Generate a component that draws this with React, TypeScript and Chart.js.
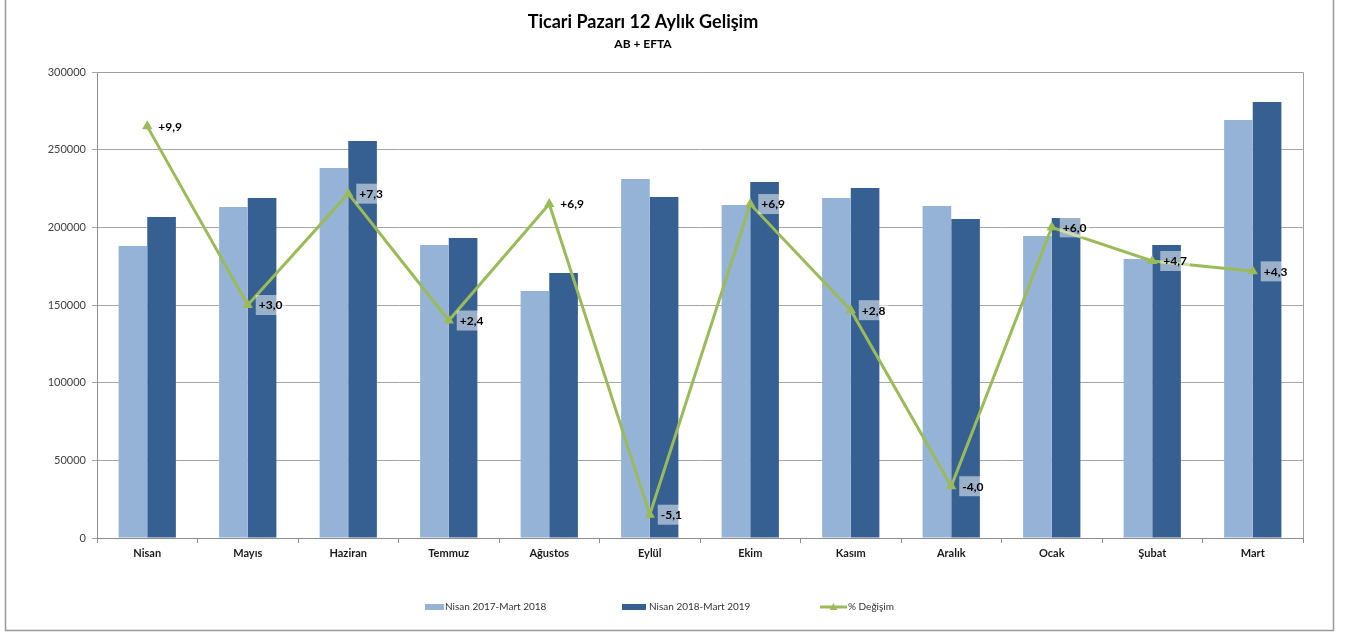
import React, { useEffect, useRef } from "react";
import { Chart, registerables } from "chart.js";

Chart.register(...registerables);

const categories = ["Nisan", "Mayıs", "Haziran", "Temmuz", "Ağustos", "Eylül", "Ekim", "Kasım", "Aralık", "Ocak", "Şubat", "Mart"];
const prevPeriod = [188000, 213100, 238200, 188600, 159000, 231100, 214400, 218900, 213700, 194400, 179600, 269100];
const currPeriod = [206700, 218900, 255600, 193100, 170600, 219500, 229200, 225300, 205400, 206000, 188600, 280700];
const changePct = [9.9, 3.0, 7.3, 2.4, 6.9, -5.1, 6.9, 2.8, -4.0, 6.0, 4.7, 4.3];
const seriesNames = ["Nisan 2017-Mart 2018", "Nisan 2018-Mart 2019", "% Değişim"];
const titleText = "Ticari Pazarı 12 Aylık Gelişim";
const subtitleText = "AB + EFTA";

const FONT = "Lato, 'Noto Sans', sans-serif";
const LIGHT = "#95B3D7";
const DARK = "#366092";
const GREEN = "#9BBB59";

const fmtPct = (v: number) => (v > 0 ? "+" : "") + v.toFixed(1).replace(".", ",");

const decorPlugin = {
  id: "decor",
  beforeDraw(chart: any) {
    const ctx = chart.ctx;
    ctx.save();
    ctx.fillStyle = "#ffffff";
    ctx.fillRect(0, 0, chart.width, chart.height);
    ctx.strokeStyle = "#9a9a9a";
    ctx.lineWidth = 1.5;
    ctx.beginPath();
    ctx.moveTo(5.5, 0);
    ctx.lineTo(5.5, 630.5);
    ctx.lineTo(1333.5, 630.5);
    ctx.lineTo(1333.5, 0);
    ctx.stroke();
    ctx.restore();
  },
  afterDraw(chart: any) {
    const ctx = chart.ctx;
    const area = chart.chartArea;
    ctx.save();
    ctx.strokeStyle = "#a0a0a0";
    ctx.lineWidth = 1;
    ctx.beginPath();
    ctx.moveTo(area.left, Math.round(area.top) + 0.5);
    ctx.lineTo(Math.round(area.right) + 0.5, Math.round(area.top) + 0.5);
    ctx.lineTo(Math.round(area.right) + 0.5, area.bottom);
    ctx.stroke();

    const meta = chart.getDatasetMeta(0);
    ctx.font = "bold 12px " + FONT;
    ctx.textBaseline = "middle";
    ctx.textAlign = "left";
    meta.data.forEach((pt: any, i: number) => {
      const txt = fmtPct(changePct[i]);
      const w = ctx.measureText(txt).width;
      const x = pt.x + 11;
      const y = pt.y;
      ctx.fillStyle = "rgba(255,255,255,0.5)";
      ctx.fillRect(x - 3, y - 10, w + 6, 20);
      ctx.fillStyle = "#000000";
      ctx.fillText(txt, x, y + 0.5);
    });

    ctx.textAlign = "center";
    ctx.fillStyle = "#000000";
    ctx.font = "bold 18px " + FONT;
    ctx.fillText(titleText, 643, 22);
    ctx.font = "bold 12px " + FONT;
    ctx.fillText(subtitleText, 643, 44);

    const xs = [425, 622, 820];
    const ly = 607;
    ctx.font = "10px " + FONT;
    ctx.textAlign = "left";
    ctx.textBaseline = "middle";
    ctx.fillStyle = LIGHT;
    ctx.fillRect(xs[0], ly - 3, 19, 6);
    ctx.fillStyle = DARK;
    ctx.fillRect(xs[1], ly - 3, 24, 6);
    ctx.strokeStyle = GREEN;
    ctx.lineWidth = 3;
    ctx.beginPath();
    ctx.moveTo(xs[2], ly);
    ctx.lineTo(xs[2] + 27, ly);
    ctx.stroke();
    ctx.fillStyle = GREEN;
    ctx.beginPath();
    ctx.moveTo(xs[2] + 13.5, ly - 4);
    ctx.lineTo(xs[2] + 17.5, ly + 3);
    ctx.lineTo(xs[2] + 9.5, ly + 3);
    ctx.closePath();
    ctx.fill();
    ctx.fillStyle = "#333333";
    ctx.fillText(seriesNames[0], xs[0] + 20, ly);
    ctx.fillText(seriesNames[1], xs[1] + 27, ly);
    ctx.fillText(seriesNames[2], xs[2] + 28, ly);
    ctx.restore();
  },
};

export default function App() {
  const ref = useRef<HTMLCanvasElement | null>(null);
  useEffect(() => {
    if (!ref.current) return;
    const chart = new Chart(ref.current, {
      type: "bar",
      data: {
        labels: categories,
        datasets: [
          {
            type: "line",
            label: seriesNames[2],
            data: changePct,
            yAxisID: "y1",
            borderColor: GREEN,
            backgroundColor: GREEN,
            borderWidth: 3,
            pointStyle: "triangle",
            pointRadius: 6,
            pointHoverRadius: 6,
            pointBorderWidth: 0,
            tension: 0,
            order: 0,
          } as any,
          {
            label: seriesNames[0],
            data: prevPeriod,
            backgroundColor: LIGHT,
            borderWidth: 0,
            yAxisID: "y",
            order: 1,
            barPercentage: 1,
            categoryPercentage: 0.57,
          },
          {
            label: seriesNames[1],
            data: currPeriod,
            backgroundColor: DARK,
            borderWidth: 0,
            yAxisID: "y",
            order: 2,
            barPercentage: 1,
            categoryPercentage: 0.57,
          },
        ],
      },
      options: {
        animation: false,
        responsive: false,
        maintainAspectRatio: false,
        layout: { padding: { left: 0, top: 72, right: 52, bottom: 70 } },
        plugins: {
          legend: { display: false },
          title: { display: false },
          tooltip: { enabled: false },
        },
        scales: {
          x: {
            type: "category",
            offset: true,
            grid: {
              offset: true,
              drawOnChartArea: false,
              drawTicks: true,
              tickLength: 5,
              color: "#8c8c8c",
            },
            border: { color: "#8c8c8c" },
            ticks: {
              font: { family: FONT, size: 11, weight: "bold" },
              color: "#1a1a1a",
              padding: 4,
              maxRotation: 0,
            },
            afterFit: (s: any) => {
              s.height = 28;
            },
          },
          y: {
            position: "left",
            min: 0,
            max: 300000,
            ticks: {
              stepSize: 50000,
              font: { family: FONT, size: 11 },
              color: "#404040",
              padding: 6,
              callback: (v: any) => String(v),
            },
            grid: { color: "#a6a6a6", tickLength: 5, drawTicks: true },
            border: { color: "#8c8c8c" },
            afterFit: (s: any) => {
              s.width = 97;
            },
          },
          y1: {
            display: false,
            min: -6,
            max: 12,
          },
        },
      },
      plugins: [decorPlugin],
    });
    return () => chart.destroy();
  }, []);
  return (
    <div style={{ position: "fixed", left: 0, top: 0, width: 1355, height: 636 }}>
      <canvas ref={ref} width={1355} height={636} style={{ width: 1355, height: 636 }} />
    </div>
  );
}
